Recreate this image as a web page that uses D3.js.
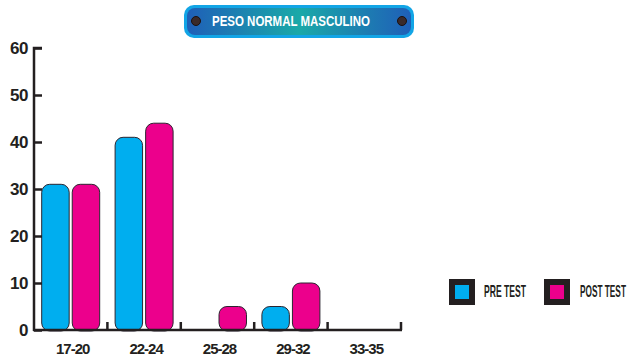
<!DOCTYPE html>
<html>
<head>
<meta charset="utf-8">
<script src="https://cdnjs.cloudflare.com/ajax/libs/d3/7.8.5/d3.min.js"></script>
<style>
  body { margin: 0; background: #fff; }
  text { font-family: "Liberation Sans", Arial, sans-serif; font-weight: bold; fill: #231f20; }
</style>
</head>
<body>
<script>
var categories = ["17-20", "22-24", "25-28", "29-32", "33-35"];
var series = ["PRE TEST", "POST TEST"];
var preTest = [31, 41, 0, 5, 0];
var postTest = [31, 44, 5, 10, 0];
var yTicks = [0, 10, 20, 30, 40, 50, 60];
var colors = ["#00aeef", "#ec008c"];

var margin = {top: 48, left: 34},
    width = 367,
    height = 282;

var svg = d3.select("body").append("svg")
    .attr("width", 635)
    .attr("height", 362);

var g = svg.append("g")
    .attr("transform", "translate(" + margin.left + "," + margin.top + ")");

var x = d3.scaleBand()
    .domain(categories)
    .range([0, width]);

var x1 = d3.scaleBand()
    .domain(series)
    .range([0, 58])
    .paddingInner(0.1);

var y = d3.scaleLinear()
    .domain([0, 60])
    .range([height, 0]);

// bars
var data = [];
categories.forEach(function(c, i) {
  [preTest[i], postTest[i]].forEach(function(v, j) {
    if (v > 0) data.push({cat: c, s: series[j], v: v, color: colors[j]});
  });
});

g.selectAll(".bar")
    .data(data)
  .enter().append("rect")
    .attr("class", "bar")
    .attr("x", function(d) { return x(d.cat) + (x.bandwidth() - 58) / 2 + x1(d.s); })
    .attr("y", function(d) { return y(d.v); })
    .attr("width", x1.bandwidth())
    .attr("height", function(d) { return height - y(d.v) + 1; })
    .attr("rx", 8)
    .style("fill", function(d) { return d.color; })
    .style("stroke", "#2b2530")
    .style("stroke-width", 1);

// y axis
var yAxis = d3.axisRight(y).tickValues(yTicks).tickSize(8).tickFormat("");
g.append("g")
    .call(yAxis)
    .call(function(a) {
      a.select(".domain").attr("d", "M0," + (height + 1) + "V0H8").style("stroke", "#231f20").style("stroke-width", 2.5);
      a.selectAll(".tick line").style("stroke", "#231f20").style("stroke-width", 2.5);
    });

g.selectAll(".ylab")
    .data(yTicks)
  .enter().append("text")
    .attr("class", "ylab")
    .attr("x", -6)
    .attr("y", function(d) { return y(d); })
    .attr("dy", "0.35em")
    .attr("text-anchor", "end")
    .style("font-size", "17px")
    .style("letter-spacing", "-0.5px")
    .text(function(d) { return d; });

// x axis
g.append("line")
    .attr("x1", -1).attr("x2", width + 1)
    .attr("y1", height).attr("y2", height)
    .style("stroke", "#231f20").style("stroke-width", 2.5);

g.selectAll(".xtick")
    .data(categories)
  .enter().append("line")
    .attr("class", "xtick")
    .attr("x1", function(d) { return x(d) + x.bandwidth(); })
    .attr("x2", function(d) { return x(d) + x.bandwidth(); })
    .attr("y1", height - 8).attr("y2", height)
    .style("stroke", "#231f20").style("stroke-width", 2.5);

g.selectAll(".xlab")
    .data(categories)
  .enter().append("text")
    .attr("class", "xlab")
    .attr("x", function(d) { return x(d) + x.bandwidth() / 2 + 2; })
    .attr("y", height + 24)
    .attr("text-anchor", "middle")
    .style("font-size", "15px")
    .style("letter-spacing", "-1px")
    .text(function(d) { return d; });

// title pill
var defs = svg.append("defs");
var grad = defs.append("linearGradient").attr("id", "tg");
grad.append("stop").attr("offset", "0%").attr("stop-color", "#1f5fb8");
grad.append("stop").attr("offset", "50%").attr("stop-color", "#1aa9a8");
grad.append("stop").attr("offset", "100%").attr("stop-color", "#1f5fb8");

svg.append("rect")
    .attr("x", 184).attr("y", 5).attr("width", 230).attr("height", 33).attr("rx", 10)
    .style("fill", "#12a5e6");
svg.append("rect")
    .attr("x", 187).attr("y", 8).attr("width", 224).attr("height", 27).attr("rx", 8)
    .style("fill", "url(#tg)");
[196, 402].forEach(function(cx) {
  svg.append("circle").attr("cx", cx).attr("cy", 21).attr("r", 4.5)
      .style("fill", "#3a2a2a").style("stroke", "#1b1010").style("stroke-width", 1);
});
svg.append("text")
    .attr("x", 291).attr("y", 26)
    .attr("text-anchor", "middle")
    .attr("textLength", 158)
    .attr("lengthAdjust", "spacingAndGlyphs")
    .style("fill", "#fff")
    .style("font-size", "14px")
    .text("PESO NORMAL MASCULINO");

// legend
var legendLen = [42, 46];
var legend = svg.selectAll(".legend")
    .data(series)
  .enter().append("g")
    .attr("class", "legend")
    .attr("transform", function(d, i) { return "translate(" + (449 + i * 95) + ",279)"; });

legend.append("rect")
    .attr("width", 26).attr("height", 26)
    .style("fill", "#231f20");
legend.append("rect")
    .attr("x", 6).attr("y", 6).attr("width", 14).attr("height", 14)
    .style("fill", function(d, i) { return colors[i]; });
legend.append("text")
    .attr("y", 18)
    .style("font-size", "16px")
    .text(function(d) { return d; })
    .attr("transform", function(d, i) {
      var s = legendLen[i] / this.getComputedTextLength();
      return "translate(" + (i ? 36 : 35) + ",0) scale(" + s + ",1)";
    });
</script>
</body>
</html>
